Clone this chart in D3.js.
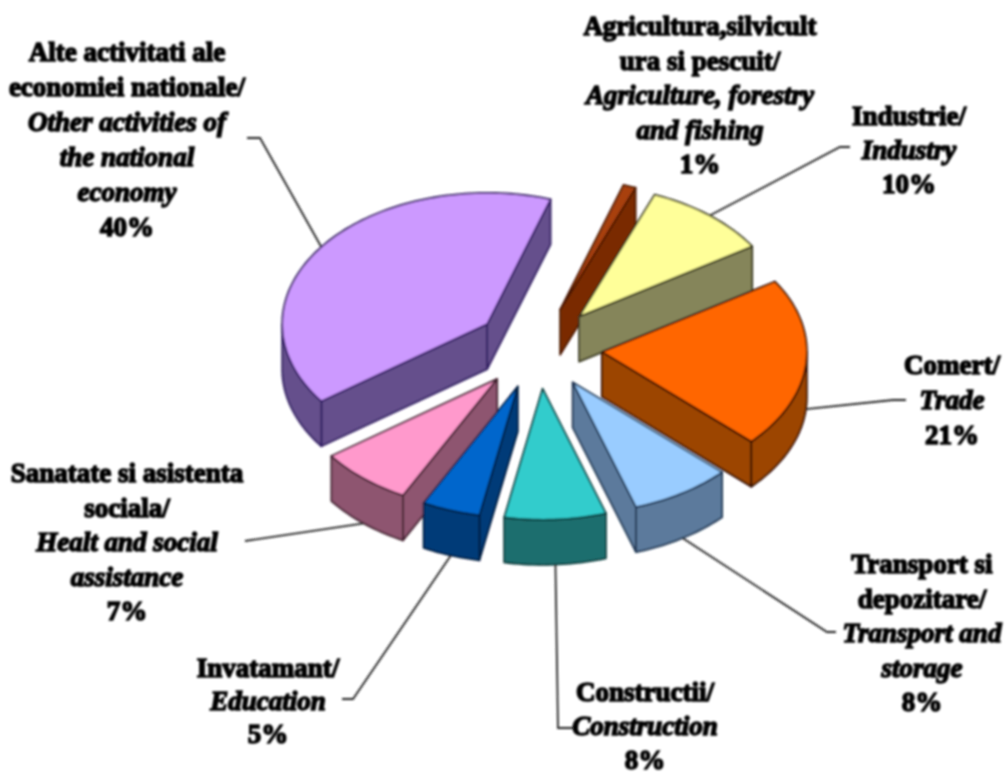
<html>
  <head>
    <title>Structura pe activitati</title>
    <script src="https://d3js.org/d3.v7.min.js"></script>
    <style>
      body{ margin: 0; background: #fff; }
      text{ font-family: "Liberation Serif", serif; font-size: 27px; font-weight: bold; fill: #000; stroke: #000; stroke-width: 1.5px; }
    </style>
  </head>
  <body>
    <svg width="1005" height="775"></svg>
    <script>
    // chart values, clockwise from the small brown slice
    // (the labels show them rounded)
    var percents = [1, 10, 21, 8, 8, 4.6, 7.4, 40];
    var labelsRo = [
      ["Agricultura,silvicult", "ura si pescuit/"],
      ["Industrie/"],
      ["Comert/"],
      ["Transport si", "depozitare/"],
      ["Constructii/"],
      ["Invatamant/"],
      ["Sanatate si asistenta", "sociala/"],
      ["Alte activitati ale", "economiei nationale/"]
    ];
    var labelsEn = [
      ["Agriculture, forestry", "and fishing"],
      ["Industry"],
      ["Trade"],
      ["Transport and", "storage"],
      ["Construction"],
      ["Education"],
      ["Healt and social", "assistance"],
      ["Other activities of", "the national", "economy"]
    ];

    // styles and layout, same order as above
    var topColors = ["#a84010", "#ffff99", "#ff6600", "#99ccff", "#33cccc", "#0066cc", "#ff99cc", "#cc99ff"];
    var sideColors = ["#7a2c00", "#85855a", "#9c4400", "#5c7a9c", "#1c6e6e", "#003a78", "#8e5570", "#65508c"];
    var edgeColors = ["#4a1800", "#33331a", "#301000", "#1a3350", "#0c3a3a", "#001f40", "#40202e", "#2e1a60"];
    var labelX = [700, 909, 952, 922, 645, 268, 127, 127];
    var labelY = [35, 125, 374, 573, 701, 677, 482, 61];
    var labelGap = [34.5, 34, 35, 34.5, 34, 33, 34.5, 35];
    // leader line: elbow point then end point
    var leaders = [
      null,
      [[840, 147], [850, 147]],
      [[893, 400], [906, 400]],
      [[827, 632], [836, 632]],
      [[558, 728], [574, 728]],
      [[353, 699], [342, 699]],
      [[245, 541]],
      [[260, 138], [247, 138]]
    ];

    var radius = 205, tilt = 0.64, explode = 0.31, depth = 45;
    var cx = 538.6, cy = 348;

    var svg = d3.select("svg");
    var defs = svg.append("defs");
    defs.append("filter").attr("id", "soft").append("feGaussianBlur").attr("stdDeviation", 0.8);
    var chart = svg.append("g").attr("filter", "url(#soft)");

    var x = d3.scaleLinear().domain([-1, 1]).range([cx - radius, cx + radius]);
    var y = d3.scaleLinear().domain([-1, 1]).range([cy - radius * tilt, cy + radius * tilt]);

    var pie = d3.pie().sort(null)
      .startAngle(18 * Math.PI / 180)
      .endAngle(18 * Math.PI / 180 + 2 * Math.PI);
    var line = d3.line();

    var slices = pie(percents).map(function(d, i){
      d.index = i;
      d.mid = (d.startAngle + d.endAngle) / 2;
      d.dx = explode * Math.sin(d.mid);
      d.dy = -explode * Math.cos(d.mid);
      return d;
    });

    // point on the slice at angle a, r = 0 apex, r = 1 rim, z = 0 top, z = 1 bottom
    function pt(d, a, r, z){
      return [x(d.dx + r * Math.sin(a)), y(d.dy - r * Math.cos(a)) + z * depth];
    }
    function arcPts(d, a0, a1, z){
      var n = Math.max(2, Math.ceil((a1 - a0) * 40));
      return d3.range(n + 1).map(function(k){ return pt(d, a0 + (a1 - a0) * k / n, 1, z); });
    }
    function facesFront(a){ return Math.cos(a) < 0; }

    // back to front
    var order = slices.slice().sort(function(a, b){ return Math.cos(b.mid) - Math.cos(a.mid); });

    order.forEach(function(d){
      var g = chart.append("g")
        .attr("stroke", edgeColors[d.index])
        .attr("stroke-width", 1.8)
        .attr("stroke-linejoin", "round");
      var a0 = d.startAngle, a1 = d.endAngle;

      function wall(pts){
        g.append("path").attr("d", line(pts) + "Z").attr("fill", sideColors[d.index]);
      }
      // radial walls
      if(facesFront(a0 - Math.PI / 2)){
        wall([pt(d, a0, 0, 0), pt(d, a0, 1, 0), pt(d, a0, 1, 1), pt(d, a0, 0, 1)]);
      }
      if(facesFront(a1 + Math.PI / 2)){
        wall([pt(d, a1, 0, 0), pt(d, a1, 1, 0), pt(d, a1, 1, 1), pt(d, a1, 0, 1)]);
      }
      // rim wall, only the part between 90 and 270 degrees shows
      [[Math.PI / 2, 1.5 * Math.PI], [2.5 * Math.PI, 3.5 * Math.PI], [-1.5 * Math.PI, -Math.PI / 2]].forEach(function(w){
        var s = Math.max(a0, w[0]), e = Math.min(a1, w[1]);
        if(e > s){
          wall(arcPts(d, s, e, 0).concat(arcPts(d, s, e, 1).reverse()));
        }
      });
      // top
      g.append("path")
        .attr("d", line([pt(d, a0, 0, 0)].concat(arcPts(d, a0, a1, 0))) + "Z")
        .attr("fill", topColors[d.index]);
    });

    // leader lines start on the rim at the middle of the slice
    slices.forEach(function(d){
      var l = leaders[d.index];
      if(!l) return;
      var start = pt(d, d.mid, 1, Math.cos(d.mid) < 0 ? 1 : 0);
      chart.append("path")
        .attr("d", line([start].concat(l)))
        .attr("fill", "none")
        .attr("stroke", "#222")
        .attr("stroke-width", 1.8);
    });

    // labels
    slices.forEach(function(d){
      var i = d.index, row = 0;
      var t = chart.append("text").attr("text-anchor", "middle");
      function add(str, italic){
        t.append("tspan")
          .attr("x", labelX[i])
          .attr("y", labelY[i] + labelGap[i] * row)
          .attr("font-style", italic ? "italic" : "normal")
          .text(str);
        row++;
      }
      labelsRo[i].forEach(function(s){ add(s, false); });
      labelsEn[i].forEach(function(s){ add(s, true); });
      add(Math.round(percents[i]) + "%", false);
    });
    </script>
  </body>
</html>
